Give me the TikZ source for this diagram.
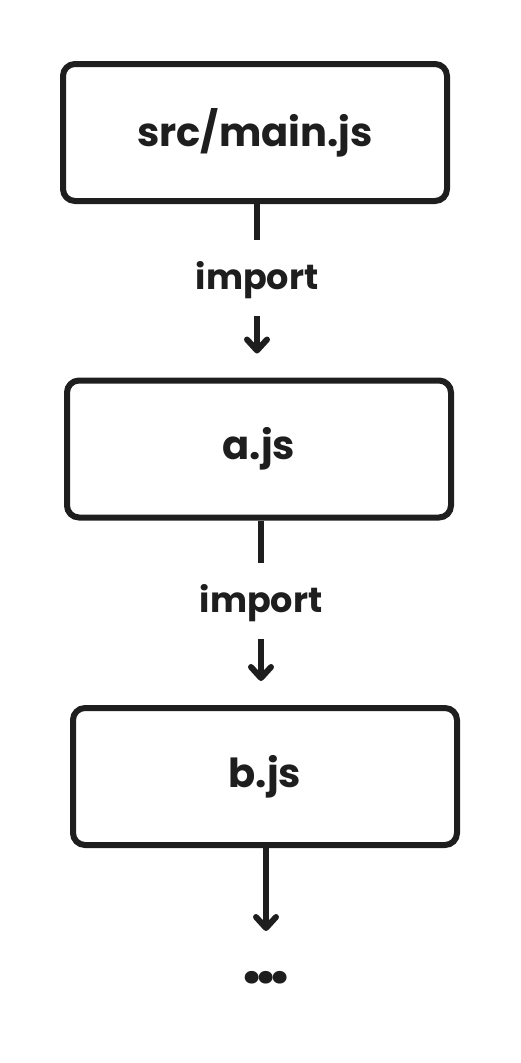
\documentclass[tikz,border=0pt]{standalone}
\usepackage{fontspec}
\setmainfont{Poppins}
\usetikzlibrary{decorations.markings}
\definecolor{ink}{HTML}{1E1E1E}
\begin{document}
\begin{tikzpicture}[x=1pt,y=-1pt,
  filebox/.style={draw=ink, line width=6pt, rounded corners=12pt, minimum width=384pt, minimum height=137pt, font=\fontsize{40}{44}\selectfont\bfseries, text=ink},
  lbl/.style={font=\fontsize{35}{38}\selectfont\bfseries, text=ink, inner sep=0pt},
  conn/.style={draw=ink, line width=6pt},
  arr/.style={conn, postaction={decorate, decoration={markings, mark=at position 1 with {\draw[ink, line width=6pt, line cap=round, line join=round] (-11pt,-10pt) -- (0pt,0pt) -- (-11pt,10pt);}}}}]
\useasboundingbox (0,0) rectangle (520,1063);
\node[filebox] (m) at (255,132.5) {src/main.js};
\node[filebox] (a) at (259,449) {a.js};
\node[filebox] (b) at (265,776.5) {b.js};
\node[lbl] (l1) at (257,280) {import};
\node[lbl] (l2) at (261,603) {import};
\node[font=\fontsize{68}{70}\selectfont\bfseries, text=ink, inner sep=0pt] (d) at (266,978) {.\kern-5pt.\kern-5pt.};
\draw[conn] (m.south -| l1) -- ([yshift=40pt]l1.center);
\draw[arr] ([yshift=-36pt]l1.center) -- ([yshift=27pt]a.north -| l1);
\draw[conn] (a.south -| l2) -- ([yshift=40pt]l2.center);
\draw[arr] ([yshift=-36pt]l2.center) -- ([yshift=27pt]b.north -| l2);
\draw[arr] (b.south -| d) -- ([yshift=50pt]d.center);
\end{tikzpicture}
\end{document}
